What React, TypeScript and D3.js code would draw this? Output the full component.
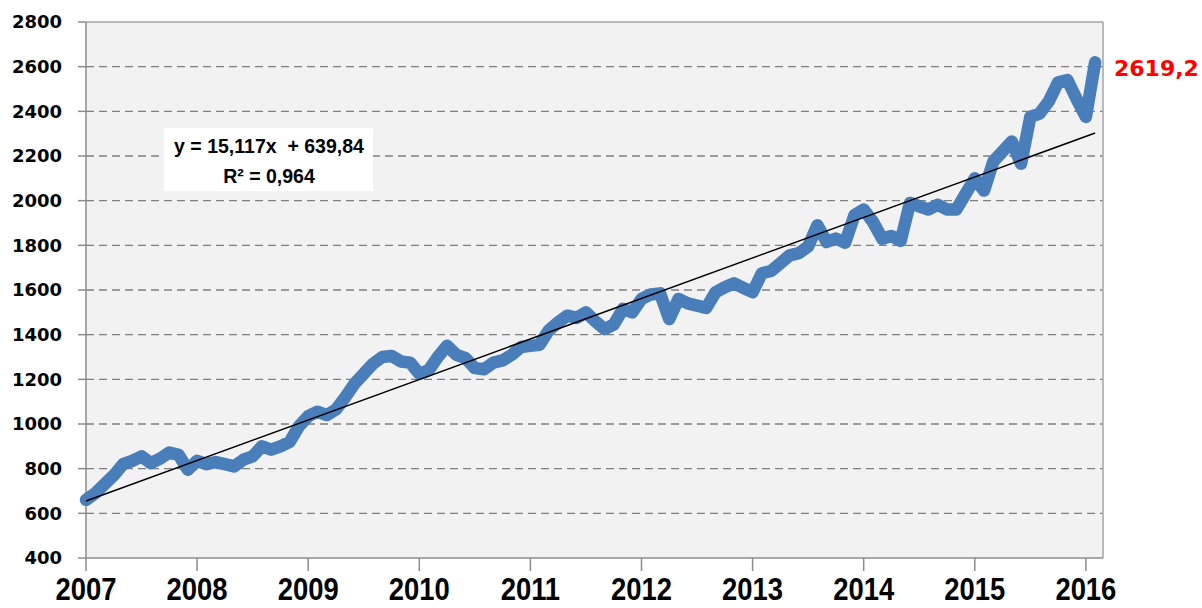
import React from "react";
import * as d3 from "d3";

// Monthly values, Jan 2007 .. Feb 2016
const values: number[] = [
  660, 690, 730, 770, 820, 835, 855, 825, 845, 872, 862, 795,
  835, 820, 830, 820, 810, 840, 855, 900, 885, 900, 920, 990,
  1035, 1055, 1040, 1065, 1120, 1180, 1225, 1270, 1300, 1305, 1280, 1275,
  1225, 1240, 1300, 1350, 1310, 1295, 1250, 1245, 1275, 1285, 1310, 1345,
  1350, 1355, 1420, 1455, 1485, 1475, 1500, 1460, 1425, 1445, 1515, 1500,
  1560, 1580, 1585, 1470, 1560, 1540, 1530, 1520, 1590, 1612, 1630, 1610,
  1590, 1675, 1685, 1720, 1755, 1765, 1795, 1890, 1815, 1830, 1812, 1935,
  1960, 1905, 1830, 1842, 1820, 1990, 1975, 1960, 1982, 1960, 1960, 2030,
  2100, 2045, 2175, 2220, 2265, 2165, 2375, 2390, 2445, 2530, 2540, 2455,
  2375, 2619.2,
];

const yearLabels: string[] = ["2007", "2008", "2009", "2010", "2011", "2012", "2013", "2014", "2015", "2016"];
const yTicks: number[] = [400, 600, 800, 1000, 1200, 1400, 1600, 1800, 2000, 2200, 2400, 2600, 2800];

const trendSlope = 15.117;
const trendIntercept = 639.84;
const equationText = "y = 15,117x  + 639,84";
const r2Text = "R² = 0,964";
const lastLabel = "2619,2";

export default function App() {
  const W = 1202;
  const H = 608;
  const left = 86;
  const right = 1103;
  const top = 22;
  const bottom = 558;

  const x = d3.scaleLinear().domain([0, 109.85]).range([left, right]);
  const y = d3.scaleLinear().domain([400, 2800]).range([bottom, top]);

  const line = d3
    .line<number>()
    .x((_, i) => x(i))
    .y((d) => y(d))
    .curve(d3.curveLinear);

  const n = values.length;
  const trend = [0, n - 1].map((i) => ({ i, v: trendSlope * (i + 1) + trendIntercept }));

  const yFont = "'DejaVu Sans', Verdana, sans-serif";
  const xFont = "'Liberation Sans', Arial, sans-serif";

  return (
    <svg
      width={W}
      height={H}
      style={{ position: "absolute", left: 0, top: 0, background: "#fff" }}
    >
      <rect x={left} y={top} width={right - left} height={bottom - top} fill="#f2f2f2" />
      {/* gridlines */}
      {yTicks.slice(1, -1).map((t) => (
        <line
          key={"g" + t}
          x1={left}
          x2={right}
          y1={y(t)}
          y2={y(t)}
          stroke="#7f7f7f"
          strokeWidth={1.3}
          strokeDasharray="8,5"
        />
      ))}
      {/* border */}
      <line x1={left} x2={right} y1={top} y2={top} stroke="#a6a6a6" strokeWidth={1.5} />
      <line x1={right} x2={right} y1={top} y2={bottom} stroke="#a6a6a6" strokeWidth={1.5} />
      <line x1={left} x2={right} y1={bottom} y2={bottom} stroke="#8c8c8c" strokeWidth={1.5} />
      <line x1={left} x2={left} y1={top} y2={bottom} stroke="#8c8c8c" strokeWidth={1.5} />
      {/* y ticks + labels */}
      {yTicks.map((t) => (
        <g key={"y" + t}>
          <line x1={left - 8} x2={left} y1={y(t)} y2={y(t)} stroke="#8c8c8c" strokeWidth={1.5} />
          <text
            x={62}
            y={y(t)}
            dy="0.36em"
            textAnchor="end"
            fontFamily={yFont}
            fontWeight="bold"
            fontSize={18}
            fill="#000"
          >
            {t}
          </text>
        </g>
      ))}
      {/* x ticks + labels */}
      {yearLabels.map((lab, k) => {
        const xi = x(k * 12);
        return (
          <g key={lab}>
            <line x1={xi} x2={xi} y1={bottom} y2={bottom + 13} stroke="#8c8c8c" strokeWidth={1.5} />
            <text
              transform={`translate(${xi},${600}) scale(0.87,1)`}
              textAnchor="middle"
              fontFamily={xFont}
              fontWeight="bold"
              fontSize={31.5}
              fill="#000"
            >
              {lab}
            </text>
          </g>
        );
      })}
      {/* data line */}
      <path
        d={line(values) || ""}
        fill="none"
        stroke="#4a7ebb"
        strokeWidth={12.5}
        strokeLinejoin="round"
        strokeLinecap="round"
      />
      {/* trend line */}
      <line
        x1={x(trend[0].i)}
        y1={y(trend[0].v)}
        x2={x(trend[1].i)}
        y2={y(trend[1].v)}
        stroke="#000"
        strokeWidth={1.5}
      />
      {/* equation box */}
      <rect x={164} y={128} width={209} height={63} fill="#fff" />
      <text
        x={269}
        y={153}
        textAnchor="middle"
        fontFamily={xFont}
        fontWeight="bold"
        fontSize={19.5}
        fill="#000"
        style={{ whiteSpace: "pre" }}
      >
        {equationText}
      </text>
      <text x={269} y={183} textAnchor="middle" fontFamily={xFont} fontWeight="bold" fontSize={19.5} fill="#000">
        {r2Text}
      </text>
      {/* last value label */}
      <text
        x={1114}
        y={76}
        fontFamily={yFont}
        fontWeight="bold"
        fontSize={22}
        fill="#ff0000"
      >
        {lastLabel}
      </text>
    </svg>
  );
}
